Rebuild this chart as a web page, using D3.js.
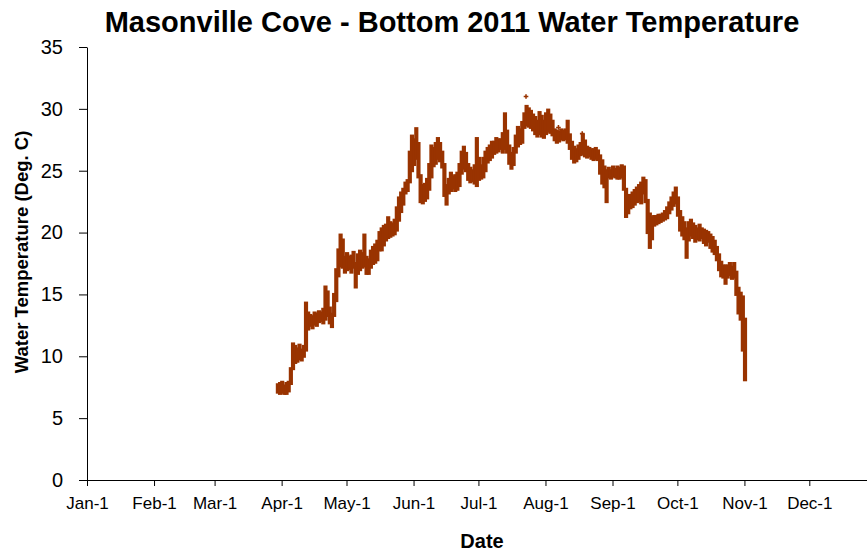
<!DOCTYPE html>
<html>
<head>
<meta charset="utf-8">
<script src="https://cdn.jsdelivr.net/npm/d3@7"></script>
<style>
  body { margin: 0; background: #fff; }
  svg { display: block; }
  text { font-family: Arial, "Liberation Sans", sans-serif; fill: #000; }
</style>
</head>
<body>
<svg id="chart" width="867" height="555"></svg>
<script>
// Bottom water temperature at Masonville Cove, 2011.
// Logger readings summarised as the daily low and high (deg C), one entry per day from firstDay.
const firstDay = "2011-03-30";

const dailyLow = [
  7.1, 7.0, 7.1, 7.0, 7.0, 7.2, 7.8, 9.0, 9.5, 9.6,
  9.8, 9.7, 10.0, 10.5, 12.2, 12.5, 12.3, 12.6, 12.5, 12.8,
  12.9, 12.7, 13.0, 13.3, 12.7, 12.4, 13.3, 14.5, 16.5, 17.3,
  17.2, 16.8, 17.0, 17.1, 16.8, 17.2, 15.6, 16.7, 17.0, 17.2,
  17.3, 16.7, 16.7, 17.2, 17.5, 17.6, 17.8, 18.6, 18.6, 19.0,
  19.4, 19.6, 19.7, 19.8, 19.9, 20.2, 21.0, 21.7, 22.3, 23.2,
  23.4, 24.1, 25.0, 25.5, 26.0, 24.5, 22.5, 22.4, 22.6, 22.8,
  23.5, 24.5, 25.4, 25.6, 26.0, 25.8, 25.3, 23.0, 22.3, 23.2,
  23.4, 23.6, 23.4, 23.5, 23.8, 24.8, 25.2, 25.0, 24.3, 24.1,
  24.2, 24.0, 23.8, 24.3, 24.4, 24.5, 25.0, 25.7, 25.9, 26.1,
  26.4, 26.5, 26.6, 26.8, 26.5, 26.8, 26.5, 25.6, 25.2, 25.5,
  26.5, 27.0, 27.2, 27.3, 28.5, 28.7, 28.6, 28.5, 28.3, 28.0,
  27.8, 28.0, 27.8, 27.7, 28.0, 28.2, 28.1, 27.9, 27.5, 27.3,
  27.4, 27.6, 27.5, 27.6, 27.3, 26.8, 26.0, 25.7, 25.8, 26.0,
  26.3, 26.4, 26.2, 26.1, 26.2, 26.0, 25.9, 26.0, 25.9, 24.8,
  24.0, 23.7, 22.5, 24.5, 24.4, 24.6, 24.5, 24.4, 24.4, 24.5,
  23.5, 21.3, 21.6, 22.0, 22.1, 22.3, 22.5, 22.6, 22.4, 23.2,
  22.5, 20.0, 18.8, 19.5, 20.6, 20.7, 20.8, 20.9, 21.0, 21.1,
  21.2, 21.6, 21.9, 22.2, 22.4, 21.4, 20.2, 19.8, 19.5, 18.0,
  19.4, 19.8, 19.6, 19.3, 19.5, 19.4, 19.6, 19.2, 19.0, 19.3,
  18.8, 18.5, 18.3, 17.8, 17.0, 16.5, 16.4, 15.9, 16.4, 16.6,
  16.3, 16.4, 15.0, 13.5, 13.0, 10.5, 8.1
];

const dailyHigh = [
  7.7, 7.8, 7.9, 7.6, 7.8, 7.9, 9.0, 11.0, 10.8, 10.6,
  10.9, 10.5, 10.8, 14.3, 13.5, 13.3, 13.2, 13.5, 13.4, 13.6,
  13.5, 13.8, 15.6, 15.2, 13.9, 13.4, 15.0, 17.0, 18.6, 19.8,
  19.4, 18.0, 18.3, 18.0, 18.1, 18.4, 17.5, 18.2, 18.5, 18.3,
  19.8, 18.0, 17.8, 18.5, 18.8, 19.0, 19.3, 20.0, 20.3, 20.5,
  20.6, 21.2, 20.8, 20.7, 21.0, 22.0, 22.8, 23.2, 23.5, 24.0,
  24.2, 26.5, 27.8, 27.5, 28.4, 27.2, 24.6, 23.8, 23.9, 24.3,
  25.5, 27.0, 26.8, 27.2, 27.6, 27.2, 26.5, 25.5, 23.8, 24.3,
  24.8, 24.5, 24.6, 24.8, 25.5, 26.5, 26.9, 26.4, 25.5, 25.2,
  25.0, 25.4, 27.6, 26.0, 25.4, 26.0, 26.5, 26.8, 27.0, 27.3,
  27.3, 27.6, 27.5, 27.5, 28.0, 29.6, 28.2, 27.0, 26.4, 26.8,
  27.8, 28.5, 28.3, 28.9, 29.6, 30.2, 30.0, 29.8, 29.5, 29.3,
  29.0, 29.7, 29.4, 29.0, 29.6, 29.9, 29.5, 29.0, 28.3, 28.2,
  28.1, 28.3, 28.2, 28.3, 29.0, 27.9, 27.3, 26.9, 26.7, 27.0,
  27.2, 27.9, 27.4, 26.9, 26.8, 26.7, 26.7, 26.8, 26.6, 26.2,
  25.8, 25.3, 25.0, 25.2, 25.0, 25.3, 25.1, 25.3, 25.2, 25.4,
  25.3, 23.5, 23.0, 23.0, 23.2, 23.4, 23.6, 23.8, 24.0, 24.4,
  24.2, 22.6, 21.5, 21.2, 21.3, 21.3, 21.4, 21.4, 21.5, 21.7,
  22.0, 22.4, 22.8, 23.2, 23.6, 22.8, 21.7, 21.2, 20.8, 20.3,
  20.8, 21.0, 20.7, 20.5, 20.3, 20.6, 20.3, 20.2, 20.1, 20.0,
  19.8, 19.6, 19.3, 18.8, 18.2, 17.6, 17.3, 17.3, 17.3, 17.5,
  17.2, 17.5, 16.8, 15.5, 15.1, 14.8, 13.0
];

// Single readings that stand apart from the daily band
const isolatedDates  = ["2011-07-23", "2011-08-07", "2011-08-07", "2011-08-18"];
const isolatedValues = [31.0, 28.5, 28.0, 28.0];

const monthLabels = ["Jan-1", "Feb-1", "Mar-1", "Apr-1", "May-1", "Jun-1",
                     "Jul-1", "Aug-1", "Sep-1", "Oct-1", "Nov-1", "Dec-1"];
const tempTicks = [0, 5, 10, 15, 20, 25, 30, 35];

const markColor = "#993300";
const svg = d3.select("#chart");
const DAY = 86400000;

const parse = d3.utcParse("%Y-%m-%d");
const start = parse(firstDay);

const x = d3.scaleUtc()
  .domain([Date.UTC(2011, 0, 1), Date.UTC(2012, 0, 1)])
  .range([87, 87 + 365 * 2.1626]);
const y = d3.scaleLinear().domain([0, 35]).range([480, 47]);

const days = dailyLow.map((lo, i) => ({
  date: new Date(start.getTime() + i * DAY),
  lo, hi: dailyHigh[i]
}));

// Axes
const monthTicks = d3.range(12).map(m => new Date(Date.UTC(2011, m, 1)));
const xAxis = d3.axisBottom(x)
  .tickValues(monthTicks)
  .tickFormat((d, i) => monthLabels[i])
  .tickSize(6).tickSizeOuter(0).tickPadding(11);
const gx = svg.append("g").attr("transform", "translate(0,480)").call(xAxis);
gx.selectAll("text").style("font-size", "17px");

const yAxis = d3.axisLeft(y)
  .tickValues(tempTicks)
  .tickSize(8).tickSizeOuter(0).tickPadding(16);
const gy = svg.append("g").attr("transform", "translate(87,0)").call(yAxis);
gy.selectAll("text").style("font-size", "20px");

svg.selectAll(".domain, .tick line").attr("stroke", "#000").attr("stroke-width", 1);

// Daily temperature ranges
const dayW = x(new Date(start.getTime() + DAY)) - x(start);
svg.append("g").selectAll("rect")
  .data(days).join("rect")
  .attr("x", d => x(d.date) - 1.5)
  .attr("width", dayW + 2)
  .attr("y", d => y(d.hi) - 1.5)
  .attr("height", d => y(d.lo) - y(d.hi) + 3)
  .attr("fill", markColor);

svg.append("g").selectAll("path")
  .data(isolatedDates.map((s, i) => ({ date: parse(s), v: isolatedValues[i] })))
  .join("path")
  .attr("transform", d => `translate(${x(d.date)},${y(d.v)})`)
  .attr("d", d3.symbol(d3.symbolCross, 12))
  .attr("fill", markColor);

// Titles
svg.append("text")
  .attr("x", 452).attr("y", 32)
  .attr("text-anchor", "middle")
  .style("font-size", "29px").style("font-weight", "bold")
  .text("Masonville Cove - Bottom 2011 Water Temperature");

svg.append("text")
  .attr("transform", "translate(28,252) rotate(-90)")
  .attr("text-anchor", "middle")
  .style("font-size", "18.5px").style("font-weight", "bold")
  .text("Water Temperature (Deg. C)");

svg.append("text")
  .attr("x", 482).attr("y", 548)
  .attr("text-anchor", "middle")
  .style("font-size", "20px").style("font-weight", "bold")
  .text("Date");
</script>
</body>
</html>
